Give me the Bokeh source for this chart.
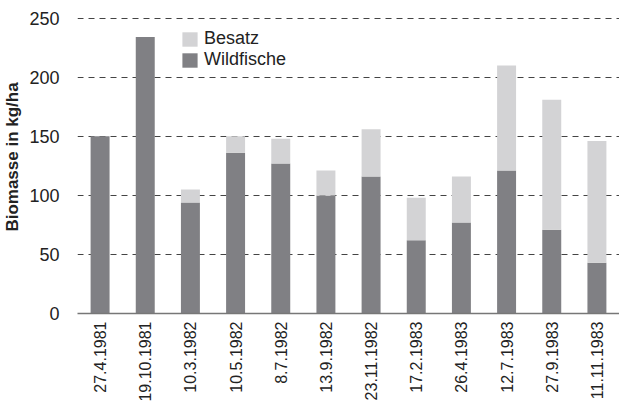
import math
from bokeh.plotting import figure
from bokeh.models import ColumnDataSource, Legend, LegendItem, FixedTicker, Range1d
from bokeh.embed import file_html
from bokeh.resources import INLINE

dates = ["27.4.1981", "19.10.1981", "10.3.1982", "10.5.1982", "8.7.1982", "13.9.1982",
         "23.11.1982", "17.2.1983", "26.4.1983", "12.7.1983", "27.9.1983", "11.11.1983"]
wildfische = [150, 234, 94, 136, 127, 100, 116, 62, 77, 121, 71, 43]
besatz = [0, 0, 11, 14, 21, 21, 40, 36, 39, 89, 110, 103]
y_ticks = [0, 50, 100, 150, 200, 250]

DARK = "#808084"
LIGHT = "#d3d3d5"
FONT = "Liberation Sans"

src = ColumnDataSource(dict(date=dates, wild=wildfische, besatz=besatz))

p = figure(x_range=dates, y_range=Range1d(0, 265), width=619, height=404,
           output_backend="svg", toolbar_location=None,
           min_border_left=72, min_border_right=0, min_border_top=0, min_border_bottom=80)

rs = p.vbar_stack(["wild", "besatz"], x="date", width=0.42, source=src,
                  color=[DARK, LIGHT], line_color=None)

legend = Legend(items=[LegendItem(label="Besatz", renderers=[rs[1]]),
                       LegendItem(label="Wildfische", renderers=[rs[0]])],
                location=(103, 243), orientation="vertical",
                glyph_width=19, glyph_height=18, label_height=18, spacing=0,
                padding=0, margin=0, label_standoff=5,
                background_fill_alpha=0, border_line_color=None,
                label_text_font=FONT, label_text_font_size="18px",
                label_text_color="#222222")
p.add_layout(legend, "center")

p.outline_line_color = None
p.xgrid.grid_line_color = None
p.ygrid.grid_line_color = "#444444"
p.ygrid.grid_line_dash = "6 5"
p.ygrid.grid_line_width = 1
p.x_range.range_padding = 0

p.yaxis.ticker = FixedTicker(ticks=y_ticks)
p.yaxis.axis_line_color = None
p.yaxis.major_tick_line_color = None
p.yaxis.minor_tick_line_color = None
p.yaxis.major_label_standoff = 12
p.yaxis.major_label_text_font = FONT
p.yaxis.major_label_text_font_size = "18px"
p.yaxis.major_label_text_color = "#222222"
p.yaxis.axis_label = "Biomasse in kg/ha"
p.yaxis.axis_label_text_font = FONT
p.yaxis.axis_label_text_font_size = "17px"
p.yaxis.axis_label_text_font_style = "bold"
p.yaxis.axis_label_text_color = "#222222"
p.yaxis.axis_label_standoff = 4

p.xaxis.axis_line_color = "#777777"
p.xaxis.axis_line_width = 1.5
p.xaxis.major_tick_line_color = None
p.xaxis.minor_tick_line_color = None
p.xaxis.major_label_orientation = math.pi / 2
p.xaxis.major_label_standoff = 2
p.xaxis.major_label_text_font = FONT
p.xaxis.major_label_text_font_size = "16px"
p.xaxis.major_label_text_color = "#222222"

open("out.html", "w").write(file_html(p, INLINE))
